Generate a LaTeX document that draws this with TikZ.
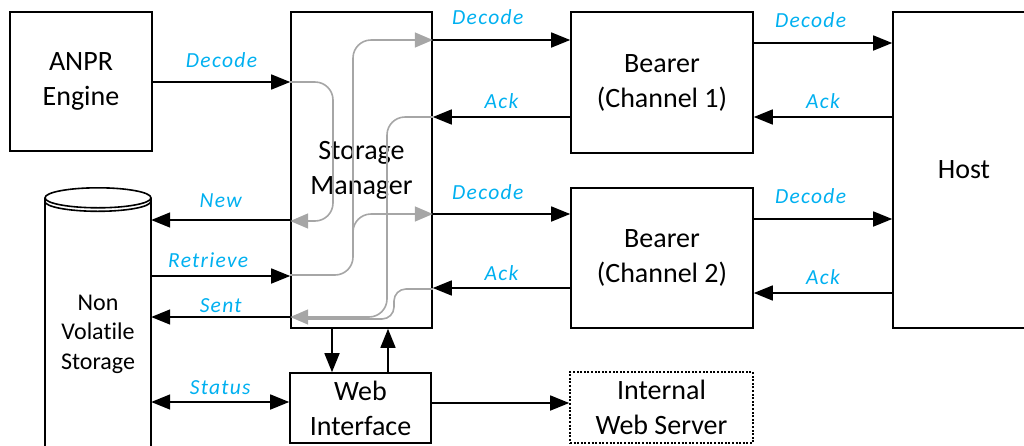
\documentclass[tikz,border=0pt]{standalone}
\usepackage{fontspec}
\setmainfont{Carlito}[Ligatures=NoCommon]
\newfontfamily\lblfont{Carlito}[LetterSpace=6, Ligatures=NoCommon]
\usepackage{tikz}
\usetikzlibrary{arrows.meta}

\definecolor{lblblue}{HTML}{00B0F0}
\definecolor{routegray}{HTML}{A6A6A6}

\begin{document}
\begin{tikzpicture}[
    x=1pt, y=-1pt,
    box/.style={
        draw,
        line width=1.6pt,
        inner sep=0pt,
        align=center,
        font=\fontsize{28}{35}\selectfont
    },
    arrow/.style={
        -{Triangle[length=19pt,width=15pt]},
        line width=1.6pt
    },
    route/.style={
        -{Triangle[length=18pt,width=15pt]},
        draw=routegray,
        color=routegray,
        line width=1.6pt,
        rounded corners=18pt
    },
    lbl/.style={
        font=\lblfont\fontsize{21.5}{25}\selectfont\itshape,
        text=lblblue,
        anchor=base,
        inner sep=0pt
    }
]
\useasboundingbox (0,0) rectangle (1024,445);

\node[box, minimum width=142pt, minimum height=139pt] (anpr) at (81,81.5) {ANPR\\Engine};
\node[box, minimum width=141pt, minimum height=316pt] (sm) at (361.5,170) {Storage\\Manager};
\node[box, minimum width=182pt, minimum height=141pt] (bearer1) at (662,82.5) {Bearer\\(Channel 1)};
\node[box, minimum width=182pt, minimum height=140pt] (bearer2) at (662,258) {Bearer\\(Channel 2)};
\node[box, minimum width=142pt, minimum height=316pt] (host) at (964,170) {Host};
\node[box, minimum width=141pt, minimum height=70pt] (web) at (360.5,408) {Web\\Interface};
\node[box, minimum width=183pt, minimum height=71pt, dash pattern=on 2pt off 1.6pt] (iws) at (661.5,407.5) {Internal\\Web Server};

% storage cylinder
\node[align=center, inner sep=0pt, minimum width=106pt, minimum height=272pt,
      font=\fontsize{24}{29.5}\selectfont] (nvs) at (98,334) {Non\\Volatile\\Storage};
\draw[line width=1.6pt] (nvs.north west) -- (nvs.south west) (nvs.north east) -- (nvs.south east);
\draw[line width=1.6pt, fill=white] (nvs.north) ellipse [x radius=53pt, y radius=10pt];
\draw[line width=1.6pt] ([yshift=-3.5pt]nvs.north west) arc[start angle=180, end angle=360, x radius=53pt, y radius=10pt];

% routing inside the storage manager
\draw[route] (sm.west |- 0,82) -- (333,82) -- (333,221) -- (sm.west |- 0,221);
\draw[route] (sm.west |- 0,275) -- (353,275) -- (353,40) -- (sm.east |- 0,40);
\draw[route] (353,250) -- (353,214) -- (sm.east |- 0,214);
\draw[route] (sm.east |- 0,117) -- (387,117) -- (387,317) -- (sm.west |- 0,317);
\draw[route, -, rounded corners=12pt] (sm.east |- 0,289) -- (394,289) -- (394,319) -- (300,319);

\draw[arrow] (anpr.east |- 0,82) -- node[lbl, yshift=15pt] {Decode} (sm.west |- 0,82);

\draw[arrow] (sm.east |- 0,40) -- node[lbl, pos=0.4, yshift=16pt] {Decode} (bearer1.west |- 0,40);
\draw[arrow] (bearer1.west |- 0,117) -- node[lbl, yshift=9pt] {Ack} (sm.east |- 0,117);
\draw[arrow] (sm.east |- 0,214) -- node[lbl, pos=0.4, yshift=15pt] {Decode} (bearer2.west |- 0,214);
\draw[arrow] (bearer2.west |- 0,288) -- node[lbl, yshift=8pt] {Ack} (sm.east |- 0,288);

\draw[arrow] (bearer1.east |- 0,43) -- node[lbl, pos=0.41, yshift=16pt] {Decode} (host.west |- 0,43);
\draw[arrow] (host.west |- 0,117) -- node[lbl, yshift=9pt] {Ack} (bearer1.east |- 0,117);
\draw[arrow] (bearer2.east |- 0,219) -- node[lbl, pos=0.41, yshift=16pt] {Decode} (host.west |- 0,219);
\draw[arrow] (host.west |- 0,293) -- node[lbl, yshift=9pt] {Ack} (bearer2.east |- 0,293);

\draw[arrow] (sm.west |- 0,220) -- node[lbl, yshift=13pt] {New} (nvs.east |- 0,220);
\draw[arrow] (nvs.east |- 0,276) -- node[lbl, pos=0.41, yshift=9pt] {Retrieve} (sm.west |- 0,276);
\draw[arrow] (sm.west |- 0,317) -- node[lbl, yshift=5pt] {Sent} (nvs.east |- 0,317);
\draw[arrow, {Triangle[length=19pt,width=15pt]}-{Triangle[length=19pt,width=15pt]}]
    (nvs.east |- 0,402) -- node[lbl, yshift=8pt] {Status} (web.west |- 0,402);

\draw[arrow] (sm.south -| 332,0) -- (web.north -| 332,0);
\draw[arrow] (web.north -| 388,0) -- (sm.south -| 388,0);
\draw[arrow] (web.east |- 0,403) -- (iws.west |- 0,403);

\end{tikzpicture}
\end{document}
